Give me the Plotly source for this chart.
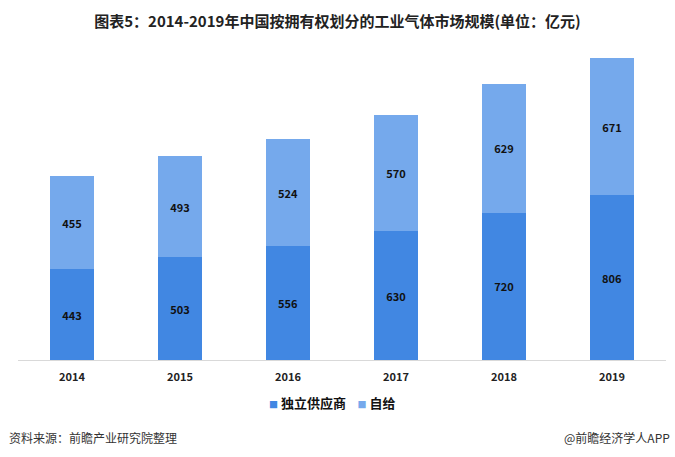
import plotly.graph_objects as go

years = ["2014", "2015", "2016", "2017", "2018", "2019"]
independent = [443, 503, 556, 630, 720, 806]
captive = [455, 493, 524, 570, 629, 671]
series_names = ["独立供应商", "自给"]
colors = ["#4187E2", "#75A9EC"]

FONT = "Noto Sans CJK SC"

fig = go.Figure()
for name, vals, col in zip(series_names, [independent, captive], colors):
    fig.add_bar(
        x=years, y=vals, name=name,
        marker_color=col, marker_line_width=0,
        text=vals, texttemplate="<b>%{text}</b>",
        textposition="inside", insidetextanchor="middle",
        textfont=dict(family=FONT, size=11, color="#111"),
    )

fig.update_layout(
    barmode="stack",
    bargap=0.6,
    width=675, height=457,
    margin=dict(l=18, r=9, t=50, b=97),
    plot_bgcolor="white", paper_bgcolor="white",
    font=dict(family=FONT, color="#222"),
    uniformtext=dict(minsize=11, mode="show"),
    title=dict(
        text="<b>图表5：2014-2019年中国按拥有权划分的工业气体市场规模(单位：亿元)</b>",
        x=0.5, xanchor="center", y=0.952, yanchor="middle",
        font=dict(family=FONT, size=15, color="#222"),
    ),
    showlegend=False,
)
fig.update_xaxes(
    showline=True, linecolor="#D9D9D9", linewidth=1,
    ticks="outside", ticklen=7, tickcolor="rgba(0,0,0,0)",
    tickfont=dict(family=FONT, size=11, color="#222"),
    tickprefix="<b>", ticksuffix="</b>",
)
fig.update_yaxes(range=[0, 1516], visible=False, showgrid=False)

# compact legend like the original
legend_txt = "    ".join(
    f"<span style='color:{c};font-size:9px'>■</span> <b>{n}</b>"
    for n, c in zip(series_names, colors)
)
fig.add_annotation(
    text=legend_txt, xref="paper", yref="paper",
    x=0.485, y=-0.138, xanchor="center", yanchor="middle", showarrow=False,
    font=dict(family=FONT, size=13, color="#111"),
)

fig.add_annotation(
    text="资料来源：前瞻产业研究院整理", xref="paper", yref="paper",
    x=-0.017, y=-0.25, xanchor="left", yanchor="middle", showarrow=False,
    font=dict(family=FONT, size=12, color="#333"),
)
fig.add_annotation(
    text="@前瞻经济学人APP", xref="paper", yref="paper",
    x=1.01, y=-0.25, xanchor="right", yanchor="middle", showarrow=False,
    font=dict(family=FONT, size=12, color="#333"),
)

fig.write_html("out.html", config={"displayModeBar": False},
               post_script="document.body.style.margin='0';")
